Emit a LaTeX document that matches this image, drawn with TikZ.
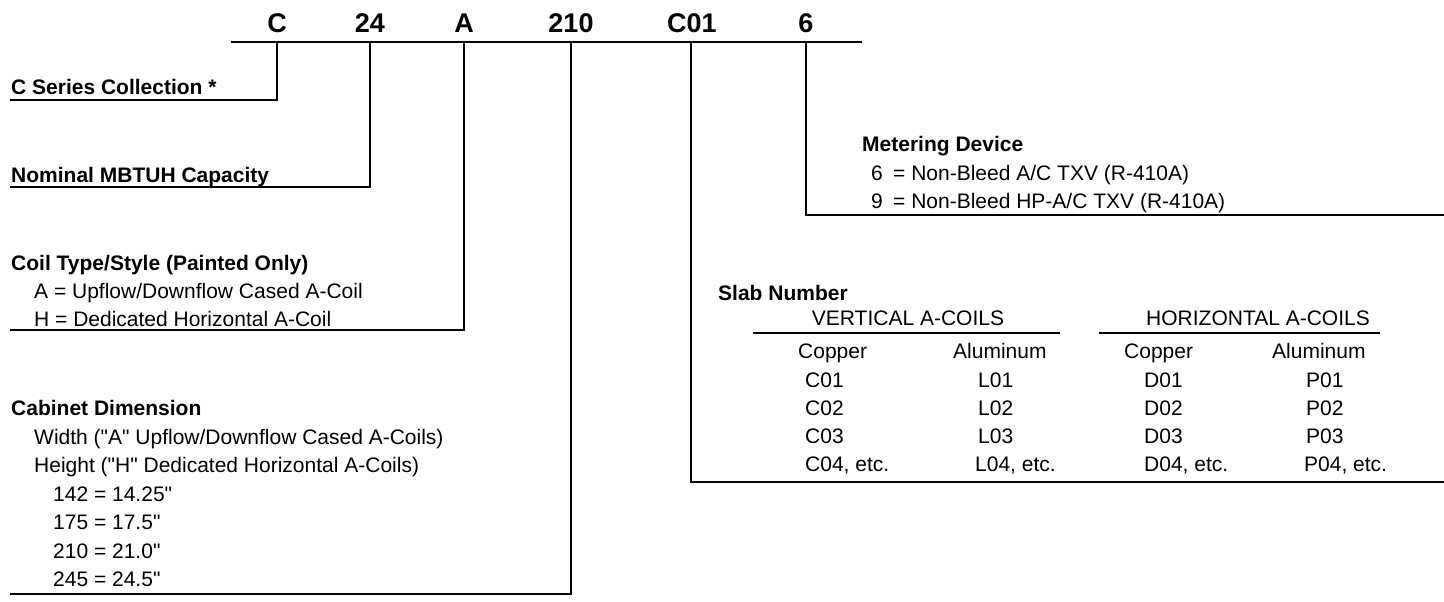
\documentclass[tikz,border=0pt]{standalone}
\usepackage{fontspec}
\setmainfont{Liberation Sans}[Ligatures=TeXOff]
\begin{document}
\begin{tikzpicture}[x=1pt,y=-1pt,
  lbl/.style={inner sep=0pt, anchor=base west, font=\fontsize{21}{25}\selectfont},
  hd/.style={inner sep=0pt, anchor=base west, font=\fontsize{21}{25}\selectfont\bfseries},
  colhd/.style={inner sep=0pt, anchor=base, font=\fontsize{21}{25}\selectfont},
  code/.style={inner sep=0pt, anchor=base, font=\fontsize{27}{30}\selectfont\bfseries},
  lead/.style={line width=2.7pt, line join=miter}]
\useasboundingbox (0,0) rectangle (1444,602);

% model code
\node[code] (kC)   at (277,33) {C};
\node[code] (k24)  at (370,33) {24};
\node[code] (kA)   at (464,33) {A};
\node[code] (k210) at (571,33) {210};
\node[code] (kC01) at (692,33) {C01};
\node[code] (k6)   at (806,33) {6};

\coordinate (bl) at (231,42);
\coordinate (br) at (862,42);
\draw[lead] (bl) -- (br);

% leader coordinates
\coordinate (tC)   at (277,42);  \coordinate (eC)   at (10,100);
\coordinate (t24)  at (370,42);  \coordinate (e24)  at (10,187);
\coordinate (tA)   at (464,42);  \coordinate (eA)   at (10,330);
\coordinate (t210) at (571,42);  \coordinate (e210) at (10,594);
\coordinate (tC01) at (691,42);  \coordinate (eC01) at (1444,482);
\coordinate (t6)   at (806,42);  \coordinate (e6)   at (1444,215);

\draw[lead] (tC) |- (eC);
\draw[lead] (t24) |- (e24);
\draw[lead] (tA) |- (eA);
\draw[lead] (t210) |- (e210);
\draw[lead] (tC01) |- (eC01);
\draw[lead] (t6) |- (e6);

% C series
\node[hd] (cs) at (11,95) {C Series Collection *};
% Nominal
\node[hd] (nom) at (11,182) {Nominal MBTUH Capacity};
% Coil type
\node[hd]  (ct)  at (11,270) {Coil Type/Style (Painted Only)};
\node[lbl] (ctA) at (34,298) {A = Upflow/Downflow Cased A-Coil};
\node[lbl] (ctH) at (34,326) {H = Dedicated Horizontal A-Coil};
% Cabinet
\node[hd]  (cd)  at (11,415) {Cabinet Dimension};
\node[lbl] (cdW) at (34,444) {Width ("A" Upflow/Downflow Cased A-Coils)};
\node[lbl] (cdH) at (34,472) {Height ("H" Dedicated Horizontal A-Coils)};
\node[lbl] (c1)  at (53,501) {142 = 14.25"};
\node[lbl] (c2)  at (53,529) {175 = 17.5"};
\node[lbl] (c3)  at (53,558) {210 = 21.0"};
\node[lbl] (c4)  at (53,586) {245 = 24.5"};
% Metering
\node[hd]  (md)  at (862,151) {Metering Device};
\node[lbl] (m6)  at (871,180) {6};
\node[lbl] (m6t) at (893,180) {= Non-Bleed A/C TXV (R-410A)};
\node[lbl] (m9)  at (871,208) {9};
\node[lbl] (m9t) at (893,208) {= Non-Bleed HP-A/C TXV (R-410A)};
% Slab
\node[hd] (sn) at (718,300) {Slab Number};
\node[colhd] (vac) at (908,325) {VERTICAL A-COILS};
\node[colhd] (hac) at (1258,325) {HORIZONTAL A-COILS};
\coordinate (v1) at (753,333);  \coordinate (v2) at (1060,333);
\coordinate (h1) at (1099,333); \coordinate (h2) at (1380,333);
\draw[lead] (v1) -- (v2);
\draw[lead] (h1) -- (h2);

\node[lbl] (cu1) at (798,358) {Copper};
\node[lbl] (al1) at (953,358) {Aluminum};
\node[lbl] (cu2) at (1124,358) {Copper};
\node[lbl] (al2) at (1272,358) {Aluminum};

\node[lbl] (a1) at (805,387) {C01};
\node[lbl] (a2) at (805,415) {C02};
\node[lbl] (a3) at (805,443) {C03};
\node[lbl] (a4) at (805,471) {C04, etc.};
\node[lbl] (b1) at (978,387) {L01};
\node[lbl] (b2) at (978,415) {L02};
\node[lbl] (b3) at (978,443) {L03};
\node[lbl] (b4) at (975,471) {L04, etc.};
\node[lbl] (d1) at (1144,387) {D01};
\node[lbl] (d2) at (1144,415) {D02};
\node[lbl] (d3) at (1144,443) {D03};
\node[lbl] (d4) at (1144,471) {D04, etc.};
\node[lbl] (p1) at (1306,387) {P01};
\node[lbl] (p2) at (1306,415) {P02};
\node[lbl] (p3) at (1306,443) {P03};
\node[lbl] (p4) at (1304,471) {P04, etc.};
\end{tikzpicture}
\end{document}
